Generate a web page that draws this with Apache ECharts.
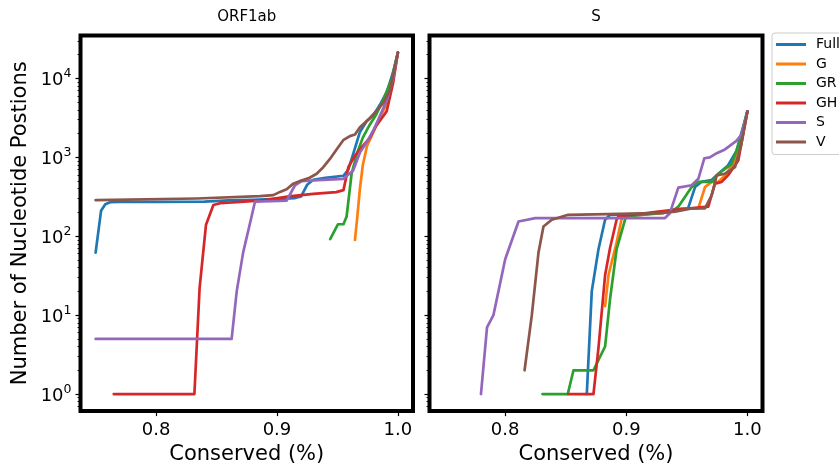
<!DOCTYPE html>
<html><head><meta charset="utf-8">
<script src="https://cdn.jsdelivr.net/npm/echarts@6/dist/echarts.min.js"></script>
<style>html,body{margin:0;padding:0;background:#fff}#c{width:839px;height:470px}</style>
</head><body><div id="c"></div>
<script>
// ---------- data ----------
const panelTitles = ['ORF1ab', 'S'];
const seriesNames = ['Full', 'G', 'GR', 'GH', 'S', 'V'];
const colors = ['#1f77b4', '#ff7f0e', '#2ca02c', '#d62728', '#9467bd', '#8c564b'];
const xTicks = [0.8, 0.9, 1.0];
const yTicks = [1, 10, 100, 1000, 10000];
const xLabel = 'Conserved (%)';
const yLabel = 'Number of Nucleotide Postions';

// ORF1ab panel: [conserved fraction, number of positions]
const orfFull = [[0.75,62],[0.7545,210],[0.758,255],[0.762,270],[0.77,272],[0.8,272],[0.84,275],[0.86,285],[0.88,290],[0.9,298],[0.915,305],[0.92,320],[0.925,450],[0.93,520],[0.94,550],[0.955,585],[0.959,700],[0.963,1100],[0.9686,2100],[0.974,2850],[0.98,3450],[0.985,4600],[0.991,6800],[0.996,12000],[1.0,21290]];
const orfG = [[0.9645,90],[0.9665,180],[0.9686,400],[0.971,800],[0.9745,1400],[0.98,2150],[0.985,3160],[0.991,4870],[0.996,9500],[1.0,21290]];
const orfGR = [[0.944,92],[0.9505,142],[0.955,142],[0.9576,178],[0.9617,620],[0.966,1100],[0.971,1780],[0.977,2630],[0.982,3470],[0.988,5360],[0.995,10000],[1.0,21290]];
const orfGH = [[0.765,1],[0.8317,1],[0.836,22],[0.8413,140],[0.8474,249],[0.853,262],[0.87,272],[0.89,287],[0.91,320],[0.93,345],[0.949,362],[0.955,384],[0.959,750],[0.9645,1050],[0.971,1400],[0.977,1780],[0.982,2500],[0.9907,3830],[0.996,8700],[1.0,21290]];
const orfS = [[0.75,5],[0.8625,5],[0.8667,20],[0.872,62],[0.879,178],[0.8818,274],[0.908,282],[0.9149,443],[0.9204,500],[0.93,510],[0.955,535],[0.963,680],[0.9686,1150],[0.974,1540],[0.98,2250],[0.985,3320],[0.991,5360],[0.996,10000],[1.0,21290]];
const orfV = [[0.75,287],[0.8336,301],[0.886,322],[0.897,332],[0.9025,365],[0.908,395],[0.9135,464],[0.919,500],[0.927,552],[0.9328,619],[0.9383,750],[0.9438,955],[0.9493,1260],[0.9548,1650],[0.9603,1860],[0.9645,1950],[0.9686,2410],[0.9727,2740],[0.9769,3160],[0.9824,3900],[0.9879,4870],[0.9934,7100],[1.0,21290]];

// S panel
const sFull = [[0.8674,1],[0.8715,20],[0.877,68],[0.8825,162],[0.8866,187],[0.93,196],[0.9403,219],[0.951,226],[0.9568,420],[0.962,488],[0.9705,515],[0.976,620],[0.984,790],[0.991,1210],[1.0,3822]];
const sG = [[0.8825,13],[0.8853,32],[0.892,83],[0.896,162],[0.8975,178],[0.93,196],[0.9485,226],[0.9595,226],[0.965,420],[0.9705,488],[0.976,488],[0.9815,590],[0.988,820],[0.994,1300],[1.0,3822]];
const sGR = [[0.8308,1],[0.8517,1],[0.8564,2],[0.8729,2],[0.8825,4],[0.8866,16],[0.892,68],[0.899,162],[0.9,178],[0.9375,205],[0.943,237],[0.954,420],[0.9595,488],[0.9705,488],[0.976,620],[0.987,820],[0.994,1620],[1.0,3822]];
const sGH = [[0.852,1],[0.8729,1],[0.877,3.8],[0.8825,32],[0.8866,71],[0.892,162],[0.8935,178],[0.9265,205],[0.9375,215],[0.9677,237],[0.9733,464],[0.9788,488],[0.984,590],[0.9925,910],[1.0,3822]];
const sS = [[0.78,1],[0.785,7],[0.7903,10],[0.8,51],[0.811,154],[0.8248,170],[0.932,170],[0.936,196],[0.943,413],[0.954,443],[0.9595,535],[0.9645,975],[0.969,1000],[0.9747,1130],[0.9815,1260],[0.991,1620],[0.9953,1950],[1.0,3822]];
const sV = [[0.816,2],[0.822,10],[0.8275,62],[0.8316,133],[0.8385,162],[0.852,187],[0.9265,196],[0.9403,205],[0.954,226],[0.965,226],[0.9705,330],[0.9747,590],[0.9815,620],[0.9898,750],[0.995,1470],[1.0,3822]];

const panelData = [
  [orfFull, orfG, orfGR, orfGH, orfS, orfV],
  [sFull, sG, sGR, sGH, sS, sV]
];

// ---------- chart ----------
const FONT = 'DejaVu Sans';
const X_MIN = 0.7375, X_MAX = 1.0125;
const Y_MIN = Math.pow(10, -0.2164), Y_MAX = Math.pow(10, 4.5446);
const minorTicks = [];
for (let e = -1; e <= 4; e++) for (let m = 2; m <= 9; m++) {
  const v = m * Math.pow(10, e);
  if (v > Y_MIN && v < Y_MAX) minorTicks.push(v);
}
const gridPos = [{left: 80.5, width: 332.5}, {left: 429.5, width: 333}];

const grids = gridPos.map(g => ({
  left: g.left, width: g.width, top: 35.5, height: 381,
  show: true, borderColor: '#000', borderWidth: 4, backgroundColor: 'transparent'
}));

const xAxes = gridPos.map((g, i) => ({
  type: 'value', gridIndex: i, min: X_MIN, max: X_MAX,
  axisLine: {show: false},
  splitLine: {show: false},
  axisTick: {show: true, customValues: xTicks, length: 5, lineStyle: {color: '#000', width: 1.2}},
  axisLabel: {customValues: xTicks, formatter: v => v.toFixed(1), fontSize: 18, color: '#000', fontFamily: FONT, margin: 10},
  name: xLabel, nameLocation: 'middle', nameGap: 31,
  nameTextStyle: {fontSize: 21, color: '#000', fontFamily: FONT}
}));

const yAxes = [];
gridPos.forEach((g, i) => {
  yAxes.push({
    type: 'log', logBase: 10, gridIndex: i, min: Y_MIN, max: Y_MAX, position: 'left',
    axisLine: {show: false},
    splitLine: {show: false},
    axisTick: {show: true, customValues: yTicks, length: 5, lineStyle: {color: '#000', width: 1.2}},
    axisLabel: {
      show: i === 0, customValues: yTicks, margin: 9,
      formatter: v => '{b|10}{s|' + Math.round(Math.log10(v)) + '}',
      rich: {
        b: {fontSize: 18, color: '#000', fontFamily: FONT, lineHeight: 22, verticalAlign: 'bottom'},
        s: {fontSize: 12.5, color: '#000', fontFamily: FONT, verticalAlign: 'top', lineHeight: 22}
      }
    },
    name: i === 0 ? yLabel : '', nameLocation: 'middle', nameGap: 49, nameRotate: 90,
    nameTextStyle: {fontSize: 21, color: '#000', fontFamily: FONT}
  });
  yAxes.push({
    type: 'log', logBase: 10, gridIndex: i, min: Y_MIN, max: Y_MAX, position: 'left',
    axisLine: {show: false},
    splitLine: {show: false},
    axisTick: {show: true, customValues: minorTicks, length: 3, lineStyle: {color: '#000', width: 0.9}},
    axisLabel: {show: false}
  });
});

const series = [];
panelData.forEach((arrs, p) => {
  arrs.forEach((d, k) => {
    series.push({
      name: seriesNames[k], type: 'line', xAxisIndex: p, yAxisIndex: p * 2,
      data: d, showSymbol: false, symbol: 'none', smooth: false,
      lineStyle: {color: colors[k], width: 2.7, cap: 'round', join: 'round'},
      itemStyle: {color: colors[k]}, z: 2 + k
    });
  });
});

const titles = panelTitles.map((t, i) => ({
  text: t, left: gridPos[i].left + gridPos[i].width / 2, top: 10, textAlign: 'center', padding: 0,
  textStyle: {fontSize: 15, fontWeight: 'normal', color: '#000', fontFamily: FONT}
}));

const chart = echarts.init(document.getElementById('c'), null, {renderer: 'canvas'});
chart.setOption({
  animation: false,
  backgroundColor: '#fff',
  color: colors,
  title: titles,
  grid: grids,
  xAxis: xAxes,
  yAxis: yAxes,
  legend: {
    data: seriesNames, orient: 'vertical', left: 772, top: 33,
    itemWidth: 30, itemHeight: 3, icon: 'rect', itemGap: 4.5,
    padding: [4, 30, 5, 4], borderColor: '#ccc', borderWidth: 1, borderRadius: 3,
    backgroundColor: '#fff', selectedMode: false,
    textStyle: {fontSize: 14, color: '#000', fontFamily: FONT, lineHeight: 15, padding: [0, 0, 0, 5]}
  },
  series: series
});
</script></body></html>
